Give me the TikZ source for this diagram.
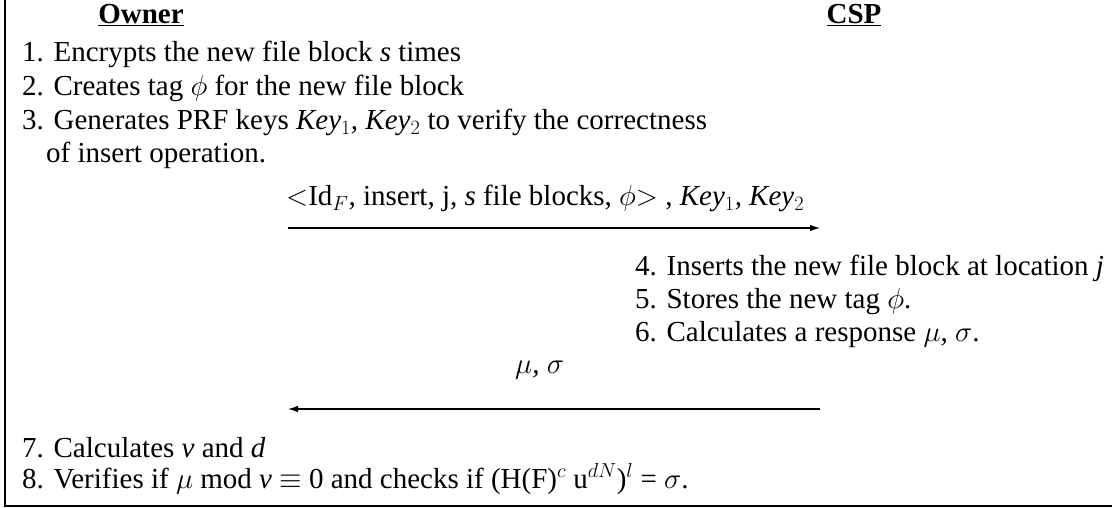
\RequirePackage{fix-cm}
\documentclass[tikz,border=0pt]{standalone}
\usepackage{fontspec}
\setmainfont{Liberation Serif}
\usetikzlibrary{arrows.meta}
\begin{document}
\begin{tikzpicture}[x=1pt,y=-1pt,
  txt/.style={anchor=base west,inner sep=0pt,font=\fontsize{29}{33}\selectfont},
  head/.style={anchor=base,inner sep=0pt,font=\fontsize{29}{33}\selectfont\bfseries},
  msg/.style={line width=1.1pt,-{Latex[length=10pt,width=6.5pt]}},
  frame/.style={line width=1.3pt}]
\useasboundingbox (0,0) rectangle (1112,508);
% frame
\coordinate (ftop) at (5,0);
\coordinate (fcorner) at (5,506);
\coordinate (fright) at (1112,506);
\draw[frame] (ftop) -- (fcorner) -- (fright);
% headings
\node[head] (owner) at (141,24) {\underline{Owner}};
\node[head] (csp) at (854,24) {\underline{CSP}};
% owner steps
\node[txt] (s1) at (22,62) {1. Encrypts the new file block \textit{s} times};
\node[txt] (s2) at (22,96) {2. Creates tag $\phi$ for the new file block};
\node[txt] (s3) at (22,130) {3. Generates PRF keys \textit{Key}$_1$\textit{,} \textit{Key}$_2$ to verify the correctness};
\node[txt] (s3b) at (46,163) {of insert operation.};
% first message
\node[txt] (m1) at (286,206) {$<$Id$_F$, insert, j, \textit{s} file blocks, $\phi$$>$ , \textit{Key}$_1$\textit{,} \textit{Key}$_2$};
\coordinate (m1s) at (288,228);
\coordinate (m1e) at (820,228);
\draw[msg] (m1s) -- (m1e);
% csp steps
\node[txt] (s4) at (635,275) {4. Inserts the new file block at location \textit{j}};
\node[txt] (s5) at (635,308) {5. Stores the new tag $\phi$.};
\node[txt] (s6) at (635,341) {6. Calculates a response $\mu$\textit{,} $\sigma$.};
% second message
\node[txt] (m2) at (515,373) {$\mu$\textit{,} $\sigma$};
\coordinate (m2s) at (820,409);
\coordinate (m2e) at (288,409);
\draw[msg] (m2s) -- (m2e);
% owner verification
\node[txt] (s7) at (22,457) {7. Calculates \textit{v} and \textit{d}};
\node[txt] (s8) at (22,488) {8. Verifies if $\mu$ mod \textit{v} $\equiv$ 0 and checks if (H(F)$^c$ u$^{dN}$)$^l$ = $\sigma$.};
\end{tikzpicture}
\end{document}
